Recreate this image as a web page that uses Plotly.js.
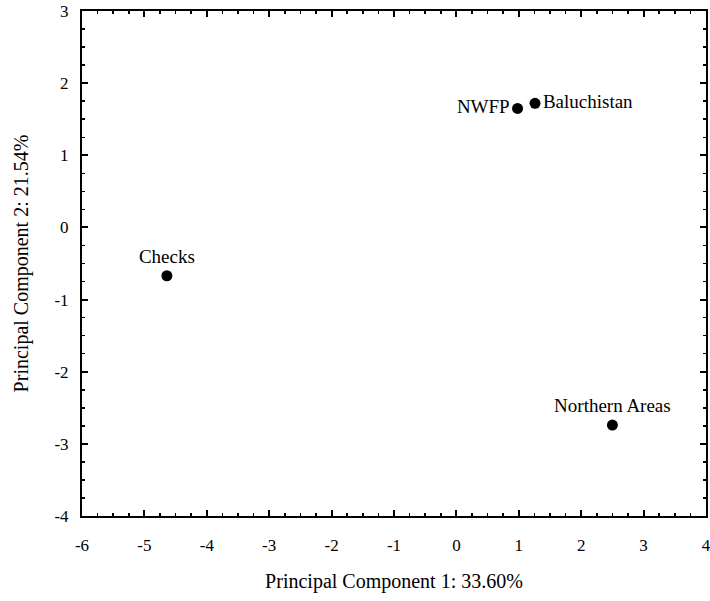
<!DOCTYPE html>
<html>
<head>
<meta charset="utf-8">
<script src="https://cdn.plot.ly/plotly-3.0.1.min.js"></script>
<style>html,body{margin:0;padding:0;background:#fff;}#chart{width:710px;height:601px;}</style>
</head>
<body>
<div id="chart"></div>
<script>
const names = ["Checks", "NWFP", "Baluchistan", "Northern Areas"];
const pc1 = [-4.64, 0.98, 1.26, 2.50];
const pc2 = [-0.67, 1.65, 1.72, -2.74];
const labelPos = ["top center", "middle left", "middle right", "top center"];
const xTickVals = [-6, -5, -4, -3, -2, -1, 0, 1, 2, 3, 4];
const xTickText = ["-6", "-5", "-4", "-3", "-2", "-1", "0", "1", "2", "3", "4"];
const yTickVals = [-4, -3, -2, -1, 0, 1, 2, 3];
const yTickText = ["-4", "-3", "-2", "-1", "0", "1", "2", "3"];

const font = "Liberation Serif";

const trace = {
  x: pc1, y: pc2, text: names,
  type: "scatter", mode: "markers+text",
  textposition: labelPos,
  textfont: {family: font, size: 19, color: "#000"},
  marker: {color: "#000", size: 11},
  cliponaxis: false,
  hoverinfo: "none"
};

const axisCommon = {
  showline: true, linecolor: "#000", linewidth: 2, mirror: "ticks",
  ticks: "inside", ticklen: 6, tickwidth: 2, tickcolor: "#000",
  showgrid: false, zeroline: false,
  ticklabeloverflow: "allow",
  tickfont: {family: font, size: 17, color: "#000"},
  minor: {dtick: 0.25, ticks: "inside", ticklen: 3, tickwidth: 1.5, tickcolor: "#000", showgrid: false}
};

const layout = {
  width: 710, height: 601,
  margin: {l: 82, r: 4, t: 11, b: 85},
  paper_bgcolor: "#fff", plot_bgcolor: "#fff",
  showlegend: false,
  font: {family: font, color: "#000"},
  xaxis: Object.assign({}, axisCommon, {
    range: [-6.0001, 4.0001], tickmode: "array", tickvals: xTickVals, ticktext: xTickText,
    ticklabelstandoff: 13,
    title: {text: "Principal Component 1: 33.60%", font: {family: font, size: 20, color: "#000"}, standoff: 20}
  }),
  yaxis: Object.assign({}, axisCommon, {
    range: [-4.0001, 3.0001], tickmode: "array", tickvals: yTickVals, ticktext: yTickText,
    ticklabelstandoff: 8,
    title: {text: "Principal Component 2: 21.54%", font: {family: font, size: 20, color: "#000"}, standoff: 20}
  })
};

Plotly.newPlot("chart", [trace], layout, {displayModeBar: false, staticPlot: true});
</script>
</body>
</html>
